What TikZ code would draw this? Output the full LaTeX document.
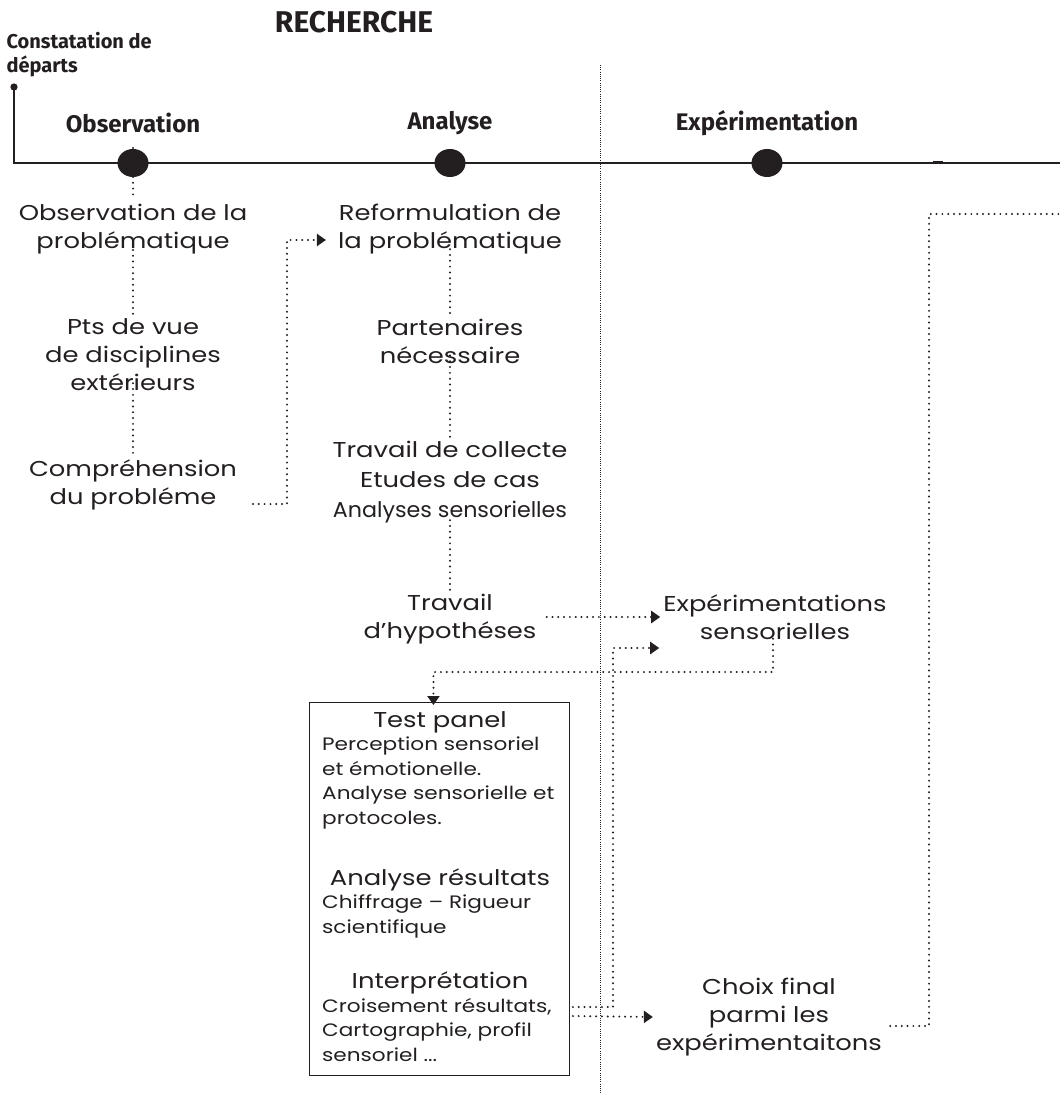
\documentclass[tikz,border=0pt]{standalone}
\usepackage{fontspec}
\setmainfont{Poppins}[FakeStretch=1.2]
\newfontfamily\headfont{Fira Sans}
\usetikzlibrary{arrows.meta,shapes.geometric}
\definecolor{ink}{HTML}{231F20}
\begin{document}
\begin{tikzpicture}[x=1pt,y=-1pt,
  body/.style={text=ink, align=center, inner sep=2pt, font=\fontsize{21.5}{28}\selectfont},
  small/.style={text=ink, align=left, inner sep=0pt, anchor=north west, font=\fontsize{18}{24.5}\selectfont},
  boxtitle/.style={text=ink, inner sep=0pt, font=\fontsize{21.5}{26}\selectfont},
  phase/.style={text=ink, font=\headfont\bfseries\fontsize{24}{28}\selectfont},
  dots/.style={draw=ink, line width=2.2pt, dash pattern=on 0pt off 5.8pt, line cap=round},
  tip/.style={-{Triangle[length=9pt,width=12pt]}},
  milestone/.style={fill=ink, ellipse, minimum width=31pt, minimum height=28pt, inner sep=0pt},
]
\useasboundingbox (0,0) rectangle (1060,1094);

% titles
\node[text=ink, font=\headfont\bfseries\fontsize{30}{34}\selectfont] (title) at (354,22) {RECHERCHE};
\node[text=ink, align=left, anchor=west, font=\headfont\bfseries\fontsize{20}{24}\selectfont] (start) at (3,55) {Constatation de\\départs};

% column divider
\draw[ink, line width=0.8pt, dash pattern=on 1pt off 1.2pt] (600,65) -- (600,1094);

% timeline
\fill[ink] (14,87) circle (3.6pt) coordinate (origin);
\coordinate (corner) at (14,163);
\coordinate (lineend) at (1060,163);
\draw[ink, line width=2.4pt] (origin) -- (corner) -- (lineend);
\draw[ink, line width=3pt] (933,163) -- (943,163);
\node[milestone] (m1) at (133,163) {};
\node[milestone] (m2) at (450,163) {};
\node[milestone] (m3) at (767,163) {};
\node[phase] (p1) at (133,123) {Observation};
\node[phase] (p2) at (450,123) {Analyse};
\node[phase] (p3) at (767,123) {Expérimentation};

% observation column
\node[body] (obs1) at (133,229) {Observation de la\\problématique};
\node[body] (obs2) at (133,355) {Pts de vue\\de disciplines\\extérieurs};
\node[body] (obs3) at (133,485) {Compréhension\\du probléme};
\draw[dots] ([yshift=15pt]m1.center) -- ([yshift=3pt]obs1.north);
\draw[dots] ([yshift=12pt]obs1.south) -- ([yshift=-1pt]obs2.north);
\draw[dots] ([yshift=10pt]obs2.south) -- ([yshift=-1pt]obs3.north);

% analysis column
\node[body] (ana1) at (450,229) {Reformulation de\\la problématique};
\node[body] (ana2) at (450,341) {Partenaires\\nécessaire};
\node[body, font=\fontsize{21.5}{30}\selectfont] (ana3) at (450,482) {Travail de collecte\\Etudes de cas\\\scalebox{0.86}[1]{Analyses sensorielles}};
\node[body] (ana4) at (450,619) {Travail\\d’hypothéses};
\draw[dots] ([yshift=7pt]ana1.south) -- ([yshift=-1pt]ana2.north);
\draw[dots] ([yshift=10pt]ana2.south) -- ([yshift=-3pt]ana3.north);
\draw[dots] ([yshift=5pt]ana3.south) -- ([yshift=-1pt]ana4.north);

% link observation -> analysis
\coordinate (j1) at (287,504);
\coordinate (j2) at (287,240);
\draw[dots, tip] (253,504) -- (j1) -- (j2) -- ([xshift=-10pt]ana1.west |- j2);

% experimentation column
\node[body] (exp1) at (775,617) {Expérimentations\\sensorielles};
\node[body] (choix) at (769,1017) {Choix final\\parmi les\\expérimentaitons};
\draw[dots, tip] ([xshift=8pt]ana4.east |- exp1.west) -- ([xshift=-1pt]exp1.west);

% test panel box
\node[draw=ink, line width=0.9pt, minimum width=260pt, minimum height=373pt, anchor=north west, inner sep=0pt] (panel) at (309,702) {};
\node[boxtitle] (t1) at (440,722) {Test panel};
\node[small] (s1) at (322,737) {Perception sensoriel\\et émotionelle.\\Analyse sensorielle et\\protocoles.};
\node[boxtitle] (t2) at (440,880) {Analyse résultats};
\node[small] (s2) at (322,895) {Chiffrage – Rigueur\\scientifique};
\node[boxtitle] (t3) at (440,983) {Interprétation};
\node[small] (s3) at (322,998) {Croisement résultats,\\Cartographie, profil\\sensoriel ...};

% loops between the panel and the experiments
\coordinate (k1) at (613,1007);
\coordinate (k2) at (613,648);
\draw[dots, tip] ([xshift=3pt]panel.east |- k1) -- (k1) -- (k2) -- ([xshift=-2pt]exp1.west |- k2);
\coordinate (k3) at (773,672);
\draw[dots, tip] ([yshift=3pt]exp1.south -| k3) -- (k3) -| ([xshift=-6pt,yshift=-3pt]panel.north);
\draw[dots, tip] ([xshift=3pt,yshift=1pt]panel.east |- choix.west) -- ([xshift=-1pt]choix.west);

% exit towards the next phase
\coordinate (e1) at (929,1026);
\coordinate (e2) at (929,214);
\coordinate (e3) at (1060,214);
\draw[dots] ([xshift=6pt]choix.east |- e1) -- (e1) -- (e2) -- (e3);
\end{tikzpicture}
\end{document}
